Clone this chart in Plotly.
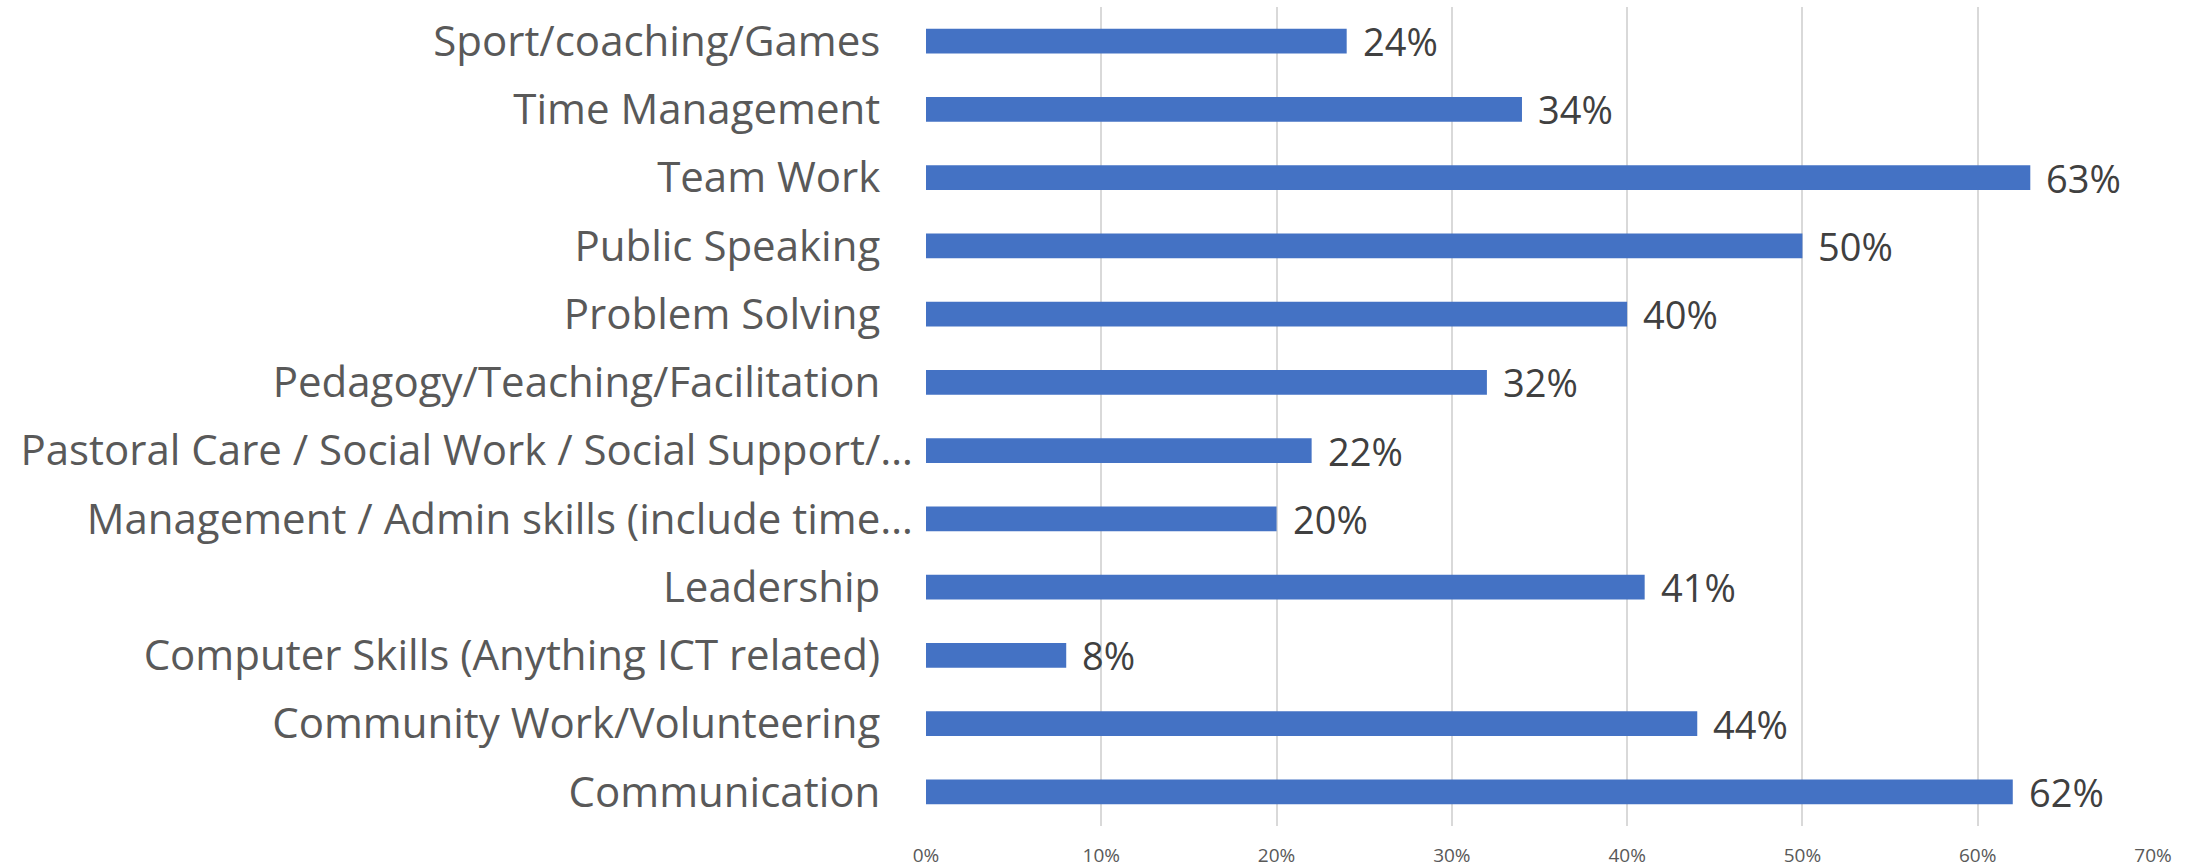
import plotly.graph_objects as go

categories = [
    "Communication",
    "Community Work/Volunteering",
    "Computer Skills (Anything ICT related)",
    "Leadership",
    "Management / Admin skills (include time…",
    "Pastoral Care / Social Work / Social Support/…",
    "Pedagogy/Teaching/Facilitation",
    "Problem Solving",
    "Public Speaking",
    "Team Work",
    "Time Management",
    "Sport/coaching/Games",
]
values = [0.62, 0.44, 0.08, 0.41, 0.20, 0.22, 0.32, 0.40, 0.50, 0.63, 0.34, 0.24]
x_tickvals = [0, 0.1, 0.2, 0.3, 0.4, 0.5, 0.6, 0.7]
x_ticktext = ["0%", "10%", "20%", "30%", "40%", "50%", "60%", "70%"]

FONT = "Open Sans"
ticktext = [c if c.endswith("…") else c + "\u00a0\u00a0\u00a0" for c in categories]

fig = go.Figure()
fig.add_trace(go.Bar(
    x=values, y=categories, orientation="h",
    marker=dict(color="#4472C4", line=dict(width=0)),
    hoverinfo="x+y",
))

for c, v in zip(categories, values):
    fig.add_annotation(
        x=v, y=c, xref="x", yref="y", text=f"{round(v*100)}%",
        showarrow=False, xanchor="left", yanchor="middle", xshift=14,
        font=dict(family=FONT, size=38, color="#404040"),
    )

fig.update_layout(
    width=2201, height=868,
    margin=dict(l=926, r=48, t=7, b=42, autoexpand=False),
    paper_bgcolor="white", plot_bgcolor="white",
    bargap=0.64,
    showlegend=False,
    font=dict(family=FONT),
)
fig.update_xaxes(
    automargin=False,
    range=[0, 0.7], tickvals=x_tickvals, ticktext=x_ticktext,
    showgrid=True, gridcolor="#D9D9D9", gridwidth=1.5,
    zeroline=False, showline=False,
    ticks="outside", ticklen=12, tickcolor="rgba(0,0,0,0)",
    tickfont=dict(family=FONT, size=19, color="#595959"),
)
fig.update_yaxes(
    automargin=False,
    categoryorder="array", categoryarray=categories,
    tickmode="array", tickvals=categories, ticktext=ticktext,
    showgrid=False, zeroline=False, showline=False,
    ticks="", ticklabelstandoff=12,
    tickfont=dict(family=FONT, size=42, color="#595959"),
)

fig.write_html(
    "out.html",
    config={"displayModeBar": False},
    post_script="document.body.style.margin='0';document.body.style.overflow='hidden';",
)
